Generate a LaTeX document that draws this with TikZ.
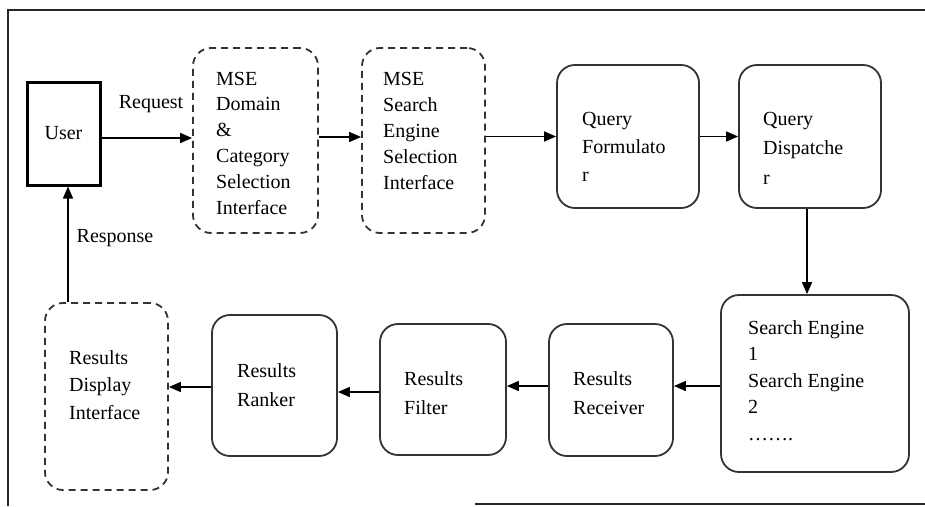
\documentclass[tikz,border=0pt]{standalone}
\usepackage{fontspec}
\setmainfont{Liberation Serif}
\usetikzlibrary{arrows.meta}
\begin{document}
\begin{tikzpicture}[x=1pt,y=-1pt,
 box/.style={draw=black!80, line width=1.8pt, rounded corners=18pt, inner sep=0pt},
 dbox/.style={box, dash pattern=on 7pt off 5pt},
 lbl/.style={anchor=base west, align=left, inner sep=0pt},
 arr/.style={line width=1.6pt, -{Triangle[length=12pt,width=10pt]}},
 frame/.style={line width=2.2pt, black!85}]
\useasboundingbox (0,0) rectangle (925,506);
% frame
\coordinate (ftl) at (8,10);
\coordinate (ftr) at (925,10);
\coordinate (fbl) at (8,506);
\coordinate (fb1) at (475,504);
\coordinate (fb2) at (925,504);
\draw[frame] (ftr) -- (ftl) -- (fbl);
\draw[frame] (fb1) -- (fb2);
% boxes
\node[draw=black, line width=3pt, minimum width=73pt, minimum height=103pt, font=\fontsize{20}{24}\selectfont] (user) at (63.5,133.5) {User};
\node[dbox, minimum width=125pt, minimum height=185pt] (mse1) at (255.5,140.5) {};
\node[dbox, minimum width=123pt, minimum height=185pt] (mse2) at (423.5,140.5) {};
\node[box, minimum width=142pt, minimum height=143pt] (qf) at (628,136.5) {};
\node[box, minimum width=142pt, minimum height=143pt] (qd) at (810,136.5) {};
\node[box, minimum width=188pt, minimum height=177pt] (se) at (815,383.5) {};
\node[box, minimum width=124pt, minimum height=132pt] (rr) at (611,390) {};
\node[box, minimum width=126pt, minimum height=131pt] (rf) at (443,389.5) {};
\node[box, minimum width=125pt, minimum height=141pt] (rk) at (274.5,385.5) {};
\node[dbox, minimum width=123pt, minimum height=187pt] (rd) at (106.5,396.5) {};
% labels (anchored at the baseline of their last line)
\node[lbl, font=\fontsize{20}{25.8}\selectfont] (t1) at (216,214) {MSE\\Domain\\\&\\Category\\Selection\\Interface};
\node[lbl, font=\fontsize{20}{26}\selectfont] (t2) at (383,189) {MSE\\Search\\Engine\\Selection\\Interface};
\node[lbl, font=\fontsize{20}{28}\selectfont] (t3) at (582,181) {Query\\Formulato\\r};
\node[lbl, font=\fontsize{20}{29.5}\selectfont] (t4) at (763,184) {Query\\Dispatche\\r};
\node[lbl, font=\fontsize{20}{26.5}\selectfont] (t5) at (748,440) {Search Engine\\1\\Search Engine\\2\\…….};
\node[lbl, font=\fontsize{20}{29}\selectfont] (t6) at (573,414) {Results\\Receiver};
\node[lbl, font=\fontsize{20}{29}\selectfont] (t7) at (404,414) {Results\\Filter};
\node[lbl, font=\fontsize{20}{29}\selectfont] (t8) at (237,406) {Results\\Ranker};
\node[lbl, font=\fontsize{20}{27.5}\selectfont] (t9) at (69,419) {Results\\Display\\Interface};
\node[font=\fontsize{20}{24}\selectfont, inner sep=0pt] (req) at (151,104) {Request};
\node[font=\fontsize{20}{24}\selectfont, inner sep=0pt] (resp) at (115,238) {Response};
% connectors
\draw[arr] ([yshift=-4.5pt]user.east) -- ([yshift=-4.5pt]user.east -| mse1.west);
\draw[arr] ([yshift=3.5pt]mse1.east) -- ([yshift=3.5pt]mse1.east -| mse2.west);
\draw[arr] (qf.west -| mse2.east) -- (qf.west);
\draw[arr] (qf.east) -- (qd.west);
\draw[arr] ([xshift=-3pt]qd.south) -- ([xshift=-3pt]qd.south |- se.north);
\draw[arr] ([yshift=-2.5pt]se.west) -- ([yshift=-2.5pt]se.west -| rr.east);
\draw[arr] ([yshift=4pt]rr.west) -- ([yshift=4pt]rr.west -| rf.east);
\draw[arr] ([yshift=-2.5pt]rf.west) -- ([yshift=-2.5pt]rf.west -| rk.east);
\draw[arr] ([yshift=-1.5pt]rk.west) -- ([yshift=-1.5pt]rk.west -| rd.east);
\draw[arr] ([xshift=-38.5pt]rd.north) -- ([xshift=-38.5pt]rd.north |- user.south);
\end{tikzpicture}
\end{document}
